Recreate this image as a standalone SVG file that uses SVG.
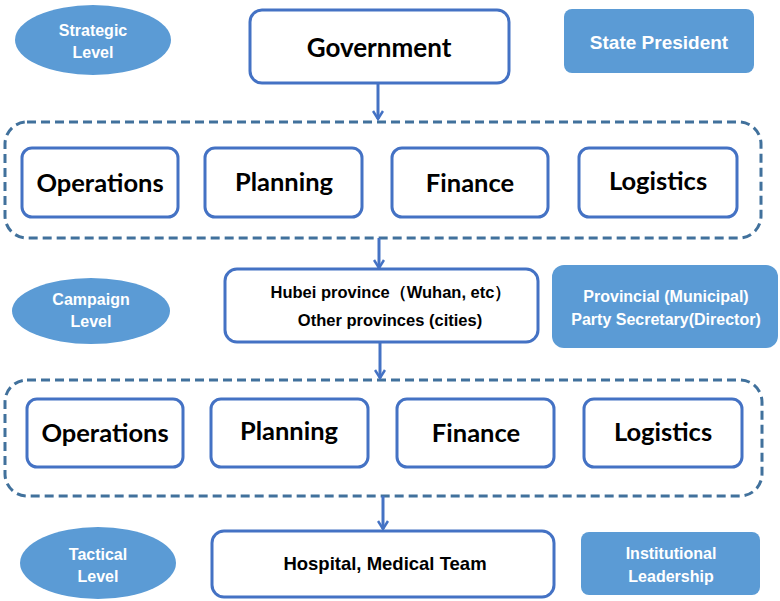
<svg xmlns="http://www.w3.org/2000/svg" width="780" height="601" viewBox="0 0 780 601">
<defs>
<marker id="ah" markerWidth="12" markerHeight="12" viewBox="0 0 12 12" refX="10" refY="6" orient="auto" markerUnits="userSpaceOnUse">
<path d="M2,1 L10,6 L2,11" fill="none" stroke="#4472C4" stroke-width="2.5"/>
</marker>
<style>
.box{fill:#fff;stroke:#4472C4;stroke-width:3}
.dash{fill:none;stroke:#41719C;stroke-width:3;stroke-dasharray:9 5}
.blue{fill:#5B9BD5}
.lvl{font-family:"Liberation Sans",Arial,sans-serif;font-size:16px;font-weight:bold;fill:#fff;text-anchor:middle}
.wb{font-family:"Liberation Sans",Arial,sans-serif;font-size:19px;font-weight:bold;fill:#fff;text-anchor:middle}
.wn{font-family:"Liberation Sans",Arial,sans-serif;font-size:16px;font-weight:bold;fill:#fff;text-anchor:middle}
.big{font-family:Lato,"Open Sans",sans-serif;font-size:25.5px;font-weight:bold;fill:#000;text-anchor:middle}
.mid{font-family:"Liberation Sans",Arial,sans-serif;font-size:16.5px;font-weight:bold;fill:#000;text-anchor:middle}
.conn{stroke:#4472C4;stroke-width:3;fill:none}
</style>
</defs>
<rect width="780" height="601" fill="#fff"/>

<g id="strategic-level">
<ellipse class="blue" cx="93" cy="40" rx="78" ry="35"/>
<text class="lvl" x="93" y="36">Strategic</text>
<text class="lvl" x="93" y="58">Level</text>
</g>
<g id="government">
<rect class="box" x="250" y="10" width="259" height="73" rx="12"/>
<text class="big" x="379" y="57" style="font-size:26px">Government</text>
</g>
<g id="state-president">
<rect class="blue" x="564" y="9" width="190" height="64" rx="8"/>
<text class="wb" x="659" y="49">State President</text>
</g>

<g id="group-strategic">
<rect class="dash" x="5" y="122" width="756" height="116" rx="22"/>
</g>
<g id="ops1"><rect class="box" x="22" y="148" width="156" height="69" rx="10"/><text class="big" x="100" y="192">Operations</text></g>
<g id="plan1"><rect class="box" x="205" y="148" width="157" height="69" rx="10"/><text class="big" x="284" y="191">Planning</text></g>
<g id="fin1"><rect class="box" x="392" y="148" width="156" height="69" rx="10"/><text class="big" x="470" y="192">Finance</text></g>
<g id="log1"><rect class="box" x="579" y="148" width="158" height="69" rx="10"/><text class="big" x="658" y="190">Logistics</text></g>

<g id="campaign-level">
<ellipse class="blue" cx="91" cy="311" rx="79" ry="33"/>
<text class="lvl" x="91" y="305">Campaign</text>
<text class="lvl" x="91" y="327">Level</text>
</g>
<g id="provinces">
<rect class="box" x="225" y="269" width="313" height="73" rx="12"/>
<text class="mid" x="391" y="298">Hubei province（Wuhan, etc）</text>
<text class="mid" x="390" y="326">Other provinces (cities)</text>
</g>
<g id="provincial-secretary">
<rect class="blue" x="552" y="265" width="226" height="83" rx="12"/>
<text class="wn" x="666" y="302">Provincial (Municipal)</text>
<text class="wn" x="666" y="325">Party Secretary(Director)</text>
</g>

<g id="group-campaign">
<rect class="dash" x="5" y="380" width="757" height="116" rx="22"/>
</g>
<g id="ops2"><rect class="box" x="27" y="399" width="156" height="68" rx="10"/><text class="big" x="105" y="442">Operations</text></g>
<g id="plan2"><rect class="box" x="211" y="399" width="157" height="68" rx="10"/><text class="big" x="289" y="440">Planning</text></g>
<g id="fin2"><rect class="box" x="397" y="399" width="157" height="68" rx="10"/><text class="big" x="476" y="442">Finance</text></g>
<g id="log2"><rect class="box" x="584" y="399" width="158" height="68" rx="10"/><text class="big" x="663" y="441">Logistics</text></g>

<g id="tactical-level">
<ellipse class="blue" cx="98" cy="563" rx="78" ry="36"/>
<text class="lvl" x="98" y="560">Tactical</text>
<text class="lvl" x="98" y="582">Level</text>
</g>
<g id="hospital">
<rect class="box" x="212" y="531" width="342" height="66" rx="12"/>
<text class="mid" x="385" y="570" style="font-size:18.5px">Hospital, Medical Team</text>
</g>
<g id="institutional">
<rect class="blue" x="581" y="532" width="179" height="63" rx="8"/>
<text class="wn" x="671" y="559">Institutional</text>
<text class="wn" x="671" y="582">Leadership</text>
</g>

<g id="connectors">
<line class="conn" x1="378" y1="84" x2="378" y2="119" marker-end="url(#ah)"/>
<line class="conn" x1="379" y1="238" x2="379" y2="268" marker-end="url(#ah)"/>
<line class="conn" x1="380" y1="342" x2="380" y2="378" marker-end="url(#ah)"/>
<line class="conn" x1="383" y1="496" x2="383" y2="529" marker-end="url(#ah)"/>
</g>
</svg>
